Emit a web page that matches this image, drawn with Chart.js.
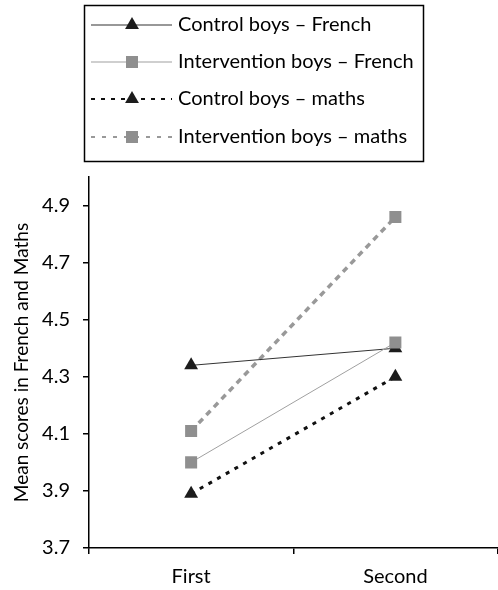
<!DOCTYPE html>
<html>
<head>
<meta charset="utf-8">
<script src="https://cdn.jsdelivr.net/npm/chart.js@4/dist/chart.umd.min.js"></script>
<style>
  html, body { margin: 0; padding: 0; background: #fff; overflow: hidden; }
  #wrap { width: 506px; height: 590px; }
</style>
</head>
<body>
<div id="wrap"><canvas id="grafico"></canvas></div>
<script>
// ============================
// Dados
// ============================
const periodos = ["First", "Second"];
const controlFrench = [4.34, 4.40];
const interventionFrench = [4.00, 4.42];
const controlMaths = [3.89, 4.30];
const interventionMaths = [4.11, 4.86];
const yTicks = [3.7, 3.9, 4.1, 4.3, 4.5, 4.7, 4.9];
const nomesSeries = [
  "Control boys \u2013 French",
  "Intervention boys \u2013 French",
  "Control boys \u2013 maths",
  "Intervention boys \u2013 maths"
];
const tituloY = "Mean scores in French and Maths";

const FONTE = "Lato, 'Open Sans', sans-serif";
const PRETO = "#1c1c1c";
const CINZA = "#8f8f8f";

// estilos de cada série (linha + marcador)
const estilos = [
  { cor: "#333", corPonto: PRETO, largura: 1, dash: [], legDash: [], forma: "triangle", r: 8 },
  { cor: "#a0a0a0", corPonto: CINZA, largura: 1, dash: [], legDash: [], forma: "rect", r: 8.5 },
  { cor: "#111", corPonto: PRETO, largura: 3, dash: [4, 6], legDash: [4, 6], forma: "triangle", r: 8 },
  { cor: "#999", corPonto: CINZA, largura: 3.5, dash: [6, 5], legDash: [4, 7], forma: "rect", r: 8.5 }
];
const valores = [controlFrench, interventionFrench, controlMaths, interventionMaths];
const ordem = [1, 0, 3, 2];

function desenharMarcador(ctx, forma, x, y, r, cor) {
  ctx.save();
  ctx.fillStyle = cor;
  ctx.beginPath();
  if (forma === "triangle") {
    ctx.moveTo(x, y - r);
    ctx.lineTo(x + r * Math.sin(Math.PI / 3), y + r / 2);
    ctx.lineTo(x - r * Math.sin(Math.PI / 3), y + r / 2);
    ctx.closePath();
  } else {
    const s = r * Math.SQRT1_2;
    ctx.rect(x - s, y - s, 2 * s, 2 * s);
  }
  ctx.fill();
  ctx.restore();
}

// legenda em caixa e título do eixo Y
const legendaCaixa = {
  id: "legendaCaixa",
  afterDraw(chart) {
    const ctx = chart.ctx;
    ctx.save();
    ctx.strokeStyle = "#000";
    ctx.lineWidth = 1.5;
    ctx.strokeRect(84.5, 5.5, 339, 156);

    const linhasY = [25, 62, 99, 137];
    nomesSeries.forEach((nome, i) => {
      const e = estilos[i];
      const y = linhasY[i];
      ctx.save();
      ctx.strokeStyle = e.cor;
      ctx.lineWidth = e.largura > 1 ? 2 : 1.2;
      ctx.setLineDash(e.legDash);
      ctx.beginPath();
      ctx.moveTo(91, y);
      ctx.lineTo(172, y);
      ctx.stroke();
      ctx.restore();
      desenharMarcador(ctx, e.forma, 132, y, e.r, e.corPonto);

      ctx.fillStyle = "#000";
      ctx.font = "20px " + FONTE;
      ctx.textAlign = "left";
      ctx.textBaseline = "middle";
      ctx.fillText(nome, 178, y);
    });

    // título do eixo Y
    const area = chart.chartArea;
    ctx.translate(22, (area.top + area.bottom) / 2);
    ctx.rotate(-Math.PI / 2);
    ctx.fillStyle = "#000";
    ctx.font = "19px " + FONTE;
    ctx.textAlign = "center";
    ctx.textBaseline = "middle";
    ctx.fillText(tituloY, 0, 0);
    ctx.restore();
  }
};

const datasets = valores.map((dados, i) => {
  const e = estilos[i];
  return {
    label: nomesSeries[i],
    data: dados,
    order: ordem[i],
    borderColor: e.cor,
    borderWidth: e.largura,
    borderDash: e.dash,
    pointStyle: e.forma,
    pointRadius: e.r,
    pointHoverRadius: e.r,
    pointBackgroundColor: e.corPonto,
    pointBorderColor: e.corPonto,
    pointBorderWidth: 0,
    fill: false,
    tension: 0
  };
});

new Chart(document.getElementById("grafico"), {
  type: "line",
  data: { labels: periodos, datasets },
  plugins: [legendaCaixa],
  options: {
    responsive: true,
    maintainAspectRatio: false,
    animation: false,
    layout: { padding: { top: 177, left: 0, right: 0, bottom: 0 } },
    plugins: {
      legend: { display: false },
      tooltip: { enabled: false }
    },
    scales: {
      x: {
        offset: true,
        afterFit: s => { s.height = 42; },
        border: { color: "#000", width: 1.5 },
        grid: { offset: true, drawOnChartArea: false, tickLength: 6, color: "#000", lineWidth: 1.5 },
        ticks: { color: "#000", font: { family: FONTE, size: 20 }, padding: 11 }
      },
      y: {
        min: 3.7,
        max: 5.0,
        afterFit: s => { s.width = 89; },
        afterBuildTicks: s => { s.ticks = yTicks.map(v => ({ value: v })); },
        border: { color: "#000", width: 1.5 },
        grid: { drawOnChartArea: false, tickLength: 6, color: "#000", lineWidth: 1.5 },
        ticks: {
          color: "#000",
          font: { family: FONTE, size: 20 },
          padding: 13,
          callback: v => v.toFixed(1)
        }
      }
    }
  }
});
</script>
</body>
</html>
